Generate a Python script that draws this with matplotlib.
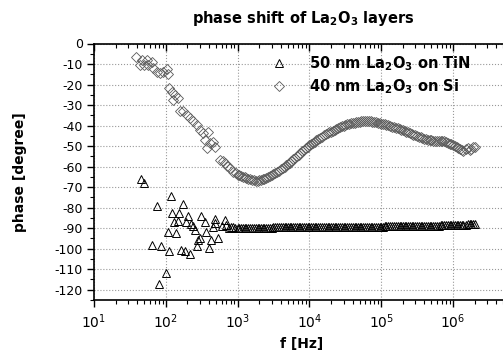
import matplotlib
matplotlib.use('Agg')
import matplotlib.pyplot as plt
from matplotlib.ticker import LogLocator, MultipleLocator, NullFormatter

plt.rcParams['font.family'] = ['DejaVu Sans']
plt.rcParams['axes.unicode_minus'] = False
plt.rcParams['mathtext.fontset'] = 'dejavusans'

# low-frequency, scattered part (< 1 kHz)
tin_freq_low = [45, 50, 65, 76, 81, 86, 101, 106, 112, 117, 123, 131, 139, 149, 154,
                161, 171, 185, 189, 201, 217, 224, 237, 255, 269, 284, 299, 309, 352,
                363, 404, 427, 459, 484, 485, 539, 600, 668, 700, 760, 820, 870, 920]
tin_phase_low = [-66.1, -68.1, -98.3, -79.0, -117.2, -98.6, -111.6, -92.1, -101.0, -74.2,
                 -82.7, -86.8, -92.4, -86.4, -82.7, -100.5, -78.3, -101.3, -87.2, -84.3,
                 -102.6, -88.0, -88.8, -91.1, -98.6, -95.7, -94.8, -84.3, -86.8, -92.1,
                 -99.7, -96.0, -89.5, -85.6, -87.5, -94.8, -89.0, -86.0, -88.4, -90.0,
                 -89.3, -89.6, -90.0]

si_freq_low = [39, 44, 46, 49, 54, 57, 64, 67, 75, 83, 92, 103, 108, 112, 122, 127, 134,
               149, 158, 175, 195, 217, 242, 269, 299, 333, 351, 371, 392, 413, 459, 485,
               569, 620, 668, 720, 784, 872, 950]
si_phase_low = [-6.4, -10.5, -8.0, -10.5, -8.0, -10.5, -8.9, -12.0, -13.7, -14.5, -13.7,
                -12.6, -15.0, -21.8, -23.5, -27.5, -25.0, -26.7, -33.0, -33.0, -34.8,
                -36.4, -38.0, -39.7, -42.0, -43.7, -47.0, -51.0, -43.0, -48.6, -47.8,
                -50.2, -56.7, -57.5, -58.3, -59.5, -60.8, -62.4, -63.0]

# high-frequency, dense part (1 kHz - 2 MHz), shared sweep frequencies
freq_high = [
    1000, 1060, 1120, 1180, 1250, 1320, 1400, 1500, 1600, 1700, 1800, 1900, 2000, 2120,
    2240, 2360, 2500, 2650, 2800, 3000, 3150, 3350, 3550, 3750, 4000, 4250, 4500, 4750,
    5000, 5300, 5600, 6000, 6300, 6700, 7100, 7500, 8000, 8500, 9000, 9500,
    1.0e4, 1.06e4, 1.12e4, 1.18e4, 1.25e4, 1.32e4, 1.4e4, 1.5e4, 1.6e4, 1.7e4, 1.8e4,
    1.9e4, 2.0e4, 2.12e4, 2.24e4, 2.36e4, 2.5e4, 2.65e4, 2.8e4, 3.0e4, 3.15e4, 3.35e4,
    3.55e4, 3.75e4, 4.0e4, 4.25e4, 4.5e4, 4.75e4, 5.0e4, 5.3e4, 5.6e4, 6.0e4, 6.3e4,
    6.7e4, 7.1e4, 7.5e4, 8.0e4, 8.5e4, 9.0e4, 9.5e4,
    1.0e5, 1.06e5, 1.12e5, 1.18e5, 1.25e5, 1.32e5, 1.4e5, 1.5e5, 1.6e5, 1.7e5, 1.8e5,
    1.9e5, 2.0e5, 2.12e5, 2.24e5, 2.36e5, 2.5e5, 2.65e5, 2.8e5, 3.0e5, 3.15e5, 3.35e5,
    3.55e5, 3.75e5, 4.0e5, 4.25e5, 4.5e5, 4.75e5, 5.0e5, 5.3e5, 5.6e5, 6.0e5, 6.3e5,
    6.7e5, 7.1e5, 7.5e5, 8.0e5, 8.5e5, 9.0e5, 9.5e5,
    1.0e6, 1.06e6, 1.12e6, 1.18e6, 1.25e6, 1.32e6, 1.4e6, 1.5e6, 1.6e6, 1.7e6, 1.8e6,
    1.9e6, 2.0e6]

tin_phase_high = [
    -90.0, -90.0, -90.0, -89.9, -89.9, -89.9, -89.9, -89.9, -89.8, -89.8, -89.8, -89.8,
    -89.8, -89.8, -89.7, -89.7, -89.7, -89.7, -89.7, -89.7, -89.6, -89.6, -89.6, -89.6,
    -89.6, -89.6, -89.6, -89.6, -89.5, -89.5, -89.5, -89.5, -89.5, -89.5, -89.5, -89.5,
    -89.5, -89.5, -89.5, -89.5,
    -89.5, -89.5, -89.5, -89.4, -89.4, -89.4, -89.4, -89.4, -89.4, -89.4, -89.4, -89.4,
    -89.4, -89.3, -89.3, -89.3, -89.3, -89.3, -89.3, -89.3, -89.3, -89.3, -89.3, -89.3,
    -89.3, -89.3, -89.2, -89.2, -89.2, -89.2, -89.2, -89.2, -89.2, -89.2, -89.2, -89.2,
    -89.2, -89.2, -89.2, -89.2,
    -89.2, -89.2, -89.1, -89.1, -89.1, -89.1, -89.1, -89.1, -89.0, -89.0, -89.0, -89.0,
    -89.0, -89.0, -88.9, -88.9, -88.9, -88.9, -88.9, -88.9, -88.8, -88.8, -88.8, -88.8,
    -88.8, -88.8, -88.7, -88.7, -88.7, -88.7, -88.7, -88.7, -88.7, -88.6, -88.6, -88.6,
    -88.6, -88.6, -88.6, -88.6,
    -88.6, -88.5, -88.5, -88.5, -88.4, -88.4, -88.3, -88.3, -88.2, -88.2, -88.1, -88.1,
    -88.0]

si_phase_high = [
    -64.0, -64.3, -64.6, -64.9, -65.2, -65.5, -65.8, -66.1, -66.4, -66.7, -67.0, -66.9,
    -66.7, -66.4, -66.1, -65.8, -65.4, -65.0, -64.6, -64.1, -63.7, -63.1, -62.5, -61.9,
    -61.2, -60.6, -60.0, -59.4, -58.8, -58.1, -57.4, -56.5, -55.8, -55.0, -54.2, -53.4,
    -52.5, -51.7, -50.9, -50.2,
    -49.5, -48.9, -48.3, -47.8, -47.2, -46.6, -46.0, -45.4, -44.8, -44.3, -43.8, -43.3,
    -42.9, -42.4, -42.0, -41.6, -41.2, -40.8, -40.4, -40.0, -39.7, -39.4, -39.1, -38.9,
    -38.7, -38.5, -38.3, -38.2, -38.1, -38.0, -37.9, -37.9, -37.9, -37.9, -38.0, -38.1,
    -38.2, -38.4, -38.6, -38.8,
    -39.0, -39.2, -39.4, -39.7, -39.9, -40.2, -40.5, -40.8, -41.1, -41.4, -41.7, -42.0,
    -42.3, -42.6, -43.0, -43.3, -43.7, -44.0, -44.4, -44.8, -45.1, -45.5, -45.8, -46.1,
    -46.4, -46.7, -46.9, -47.1, -47.2, -47.3, -47.3, -47.3, -47.3, -47.4, -47.5, -47.7,
    -48.0, -48.4, -48.8, -49.2,
    -49.6, -50.0, -50.5, -51.0, -51.5, -51.8, -52.2, -51.2, -51.0, -51.8, -51.5, -50.6,
    -50.3]

x_ticks = [1e1, 1e2, 1e3, 1e4, 1e5, 1e6]
x_labels = [r'$\mathregular{10^{%d}}$' % e for e in range(1, 7)]
y_ticks = list(range(0, -130, -10))

fig = plt.figure(figsize=(5.03, 3.54), dpi=100)
ax = fig.add_axes([94 / 503, 54 / 354, 416 / 503, 256.5 / 354])

ax.plot(tin_freq_low + freq_high, tin_phase_low + tin_phase_high, linestyle='none',
        marker='^', ms=6, mfc='none', mec='black', mew=0.7,
        label=r'50 nm La$_\mathbf{2}$O$_\mathbf{3}$ on TiN')
ax.plot(si_freq_low + freq_high, si_phase_low + si_phase_high, linestyle='none',
        marker='D', ms=4.8, mfc='none', mec='#5a5a5a', mew=0.6,
        label=r'40 nm La$_\mathbf{2}$O$_\mathbf{3}$ on Si')

ax.set_xscale('log')
ax.set_xlim(10, 10 ** (1 + 416 / 71.8))
ax.set_ylim(-125, 0)
ax.set_xticks(x_ticks)
ax.set_xticklabels(x_labels, fontsize=10)
ax.xaxis.set_minor_locator(LogLocator(base=10, subs=range(2, 10), numticks=20))
ax.xaxis.set_minor_formatter(NullFormatter())
ax.set_yticks(y_ticks)
ax.set_yticklabels([str(v) for v in y_ticks], fontsize=9)
ax.yaxis.set_minor_locator(MultipleLocator(5))

ax.tick_params(which='major', direction='out', length=5, width=1, pad=3)
ax.tick_params(which='minor', direction='out', length=3, width=0.8)
ax.tick_params(axis='x', pad=4)

ax.grid(True, which='major', linestyle=':', color='#999999', linewidth=0.8)
ax.spines['right'].set_visible(False)
for s in ['left', 'bottom', 'top']:
    ax.spines[s].set_linewidth(1.2)

# top axis ticks point inward
ax2 = ax.twiny()
ax2.set_xscale('log')
ax2.set_xlim(ax.get_xlim())
ax2.set_xticks(x_ticks)
ax2.xaxis.set_minor_locator(LogLocator(base=10, subs=range(2, 10), numticks=20))
ax2.tick_params(which='both', direction='in', labeltop=False, top=True, bottom=False)
ax2.tick_params(which='major', length=5, width=1)
ax2.tick_params(which='minor', length=3, width=0.8)
for s in ax2.spines.values():
    s.set_visible(False)

ax.set_xlabel('f [Hz]', fontsize=10, fontweight='bold', labelpad=4)
ax.set_ylabel('phase [degree]', fontsize=10, fontweight='bold', labelpad=20)
fig.text(303 / 503, 1 - 19 / 354, r'phase shift of La$_\mathbf{2}$O$_\mathbf{3}$ layers',
         ha='center', va='center', fontsize=10.5, fontweight='bold')

ax.legend(loc='upper left', bbox_to_anchor=(254 / 503, 1 - 41 / 354),
          bbox_transform=fig.transFigure, frameon=False, numpoints=1,
          handlelength=1.6, handletextpad=1.3, labelspacing=0.3,
          prop={'weight': 'bold', 'size': 10.5})

fig.savefig('out.png', dpi=100)
